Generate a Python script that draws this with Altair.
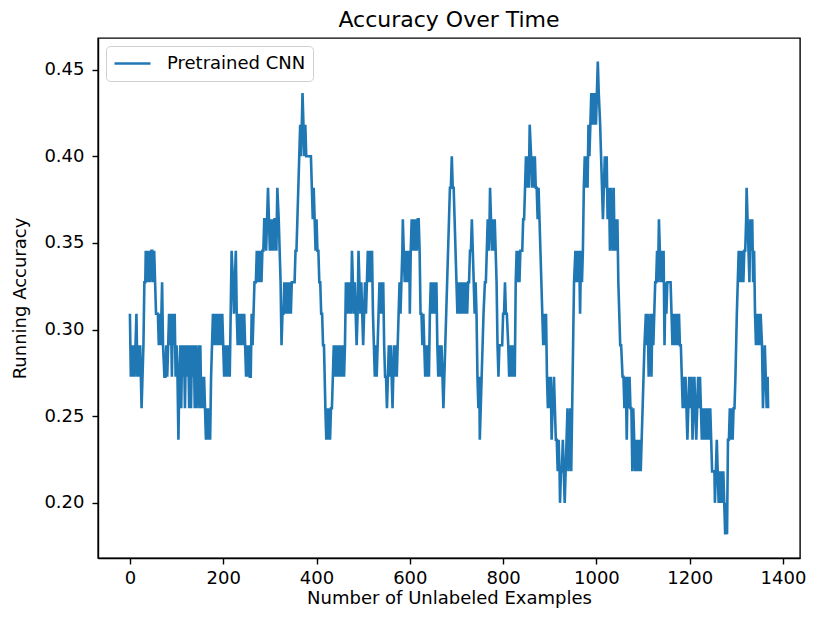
import altair as alt
import pandas as pd

# Running accuracy over a sliding window of 55 examples.
# Values are stored as "correct answers in the window"
# (the curve only takes the levels k/55).
WINDOW = 55

x_pts = [
    0, 2, 4, 6, 8, 10, 12, 14, 16, 18, 20, 22, 25, 27, 29, 31, 33, 34, 36, 38,
    40, 42, 44, 46, 48, 50, 52, 54, 56, 58, 60, 62, 64, 66, 69, 71, 74, 76, 78, 80,
    82, 84, 86, 88, 90, 92, 94, 96, 98, 100, 102, 104, 106, 108, 110, 112, 114, 116, 118, 120,
    123, 125, 127, 129, 131, 133, 135, 137, 139, 141, 143, 145, 147, 149, 151, 153, 155, 157, 159, 161,
    163, 165, 167, 169, 172, 174, 176, 178, 180, 182, 184, 186, 188, 190, 192, 194, 196, 198, 200, 202,
    204, 206, 208, 210, 212, 214, 216, 218, 221, 223, 225, 227, 229, 231, 233, 235, 237, 239, 241, 243,
    245, 247, 249, 251, 253, 255, 257, 259, 261, 263, 265, 267, 270, 272, 274, 276, 278, 280, 282, 284,
    286, 288, 290, 292, 294, 296, 298, 300, 302, 304, 306, 308, 310, 312, 314, 316, 319, 321, 323, 325,
    327, 329, 331, 333, 335, 337, 339, 341, 343, 345, 347, 349, 351, 353, 355, 357, 359, 361, 363, 365,
    367, 370, 372, 374, 376, 378, 380, 384, 388, 390, 392, 394, 396, 398, 400, 402, 404, 406, 408, 410,
    412, 414, 416, 419, 421, 423, 425, 427, 429, 431, 433, 435, 437, 439, 441, 443, 445, 447, 449, 451,
    453, 455, 457, 459, 461, 463, 465, 468, 470, 472, 474, 476, 478, 480, 482, 484, 486, 488, 490, 492,
    494, 496, 498, 500, 502, 504, 506, 508, 510, 512, 514, 517, 519, 521, 523, 525, 527, 529, 531, 533,
    535, 537, 539, 541, 543, 545, 547, 549, 551, 553, 555, 557, 559, 561, 563, 566, 568, 570, 572, 574,
    576, 578, 580, 582, 584, 585, 587, 589, 591, 593, 595, 597, 599, 600, 602, 604, 606, 608, 610, 612,
    615, 617, 619, 621, 623, 625, 627, 629, 631, 633, 635, 637, 639, 641, 643, 645, 647, 649, 651, 653,
    655, 657, 659, 661, 664, 666, 668, 670, 672, 674, 676, 678, 680, 682, 684, 686, 688, 690, 692, 694,
    696, 698, 700, 702, 704, 706, 708, 710, 713, 715, 717, 719, 721, 723, 725, 727, 729, 731, 733, 735,
    737, 739, 741, 743, 745, 747, 749, 750, 752, 754, 756, 758, 761, 763, 765, 767, 769, 771, 772, 774,
    776, 778, 780, 782, 784, 786, 788, 790, 792, 794, 796, 798, 800, 802, 804, 806, 808, 811, 813, 815,
    817, 819, 821, 823, 825, 827, 829, 831, 833, 835, 837, 839, 841, 843, 845, 847, 849, 851, 853, 855,
    857, 860, 862, 864, 866, 868, 870, 872, 874, 876, 878, 880, 882, 884, 886, 888, 890, 892, 894, 896,
    898, 900, 902, 904, 906, 909, 911, 913, 915, 917, 919, 921, 922, 924, 926, 928, 930, 932, 934, 936,
    938, 940, 942, 944, 946, 948, 950, 952, 955, 957, 959, 961, 963, 965, 967, 969, 971, 973, 975, 977,
    979, 981, 983, 985, 987, 989, 991, 993, 995, 997, 999, 1001, 1003, 1005, 1008, 1010, 1012, 1014, 1016, 1018,
    1020, 1022, 1024, 1026, 1028, 1029, 1031, 1033, 1035, 1037, 1039, 1041, 1043, 1045, 1047, 1049, 1051, 1053, 1056, 1058,
    1060, 1062, 1064, 1065, 1067, 1069, 1071, 1073, 1075, 1077, 1079, 1081, 1083, 1085, 1087, 1089, 1091, 1093, 1095, 1097,
    1099, 1101, 1103, 1106, 1108, 1110, 1112, 1114, 1116, 1118, 1120, 1122, 1124, 1126, 1128, 1130, 1132, 1134, 1136, 1138,
    1140, 1142, 1144, 1146, 1148, 1150, 1152, 1155, 1157, 1159, 1161, 1163, 1165, 1167, 1169, 1171, 1173, 1175, 1177, 1179,
    1181, 1183, 1185, 1187, 1189, 1191, 1193, 1195, 1197, 1199, 1201, 1204, 1206, 1208, 1210, 1212, 1214, 1216, 1218, 1220,
    1222, 1224, 1226, 1228, 1230, 1232, 1234, 1236, 1238, 1240, 1242, 1244, 1246, 1248, 1250, 1253, 1254, 1256, 1258, 1260,
    1262, 1264, 1266, 1268, 1270, 1272, 1274, 1276, 1278, 1280, 1282, 1284, 1286, 1288, 1290, 1292, 1294, 1296, 1298, 1301,
    1303, 1305, 1307, 1309, 1311, 1313, 1315, 1317, 1319, 1321, 1322, 1324, 1326, 1328, 1330, 1332, 1334, 1336, 1338, 1340,
    1342, 1344, 1346, 1348, 1350, 1352, 1355, 1357, 1359, 1361, 1363, 1365, 1367, 1368,
]

correct_in_window = [
    17, 15, 16, 15, 16, 15, 16, 17, 15, 16, 15, 16, 14, 15, 16, 18, 18, 19, 18, 19,
    18, 19, 18, 19, 19, 18, 19, 18, 17, 17, 17, 16, 17, 16, 18, 16, 15, 15, 16, 15,
    16, 17, 16, 17, 15, 17, 16, 17, 15, 16, 15, 13, 15, 16, 14, 16, 15, 16, 14, 16,
    15, 16, 14, 16, 14, 16, 15, 16, 14, 16, 14, 15, 16, 14, 16, 14, 15, 14, 15, 14,
    13, 14, 13, 14, 13, 15, 16, 17, 16, 17, 16, 17, 16, 17, 16, 17, 16, 17, 16, 15,
    16, 15, 16, 15, 16, 15, 17, 19, 18, 17, 18, 19, 17, 16, 17, 16, 17, 16, 17, 16,
    17, 16, 15, 16, 15, 16, 15, 15, 17, 16, 17, 18, 18, 19, 18, 19, 18, 19, 18, 19,
    19, 20, 20, 19, 20, 21, 20, 19, 20, 19, 20, 19, 20, 20, 19, 21, 20, 19, 18, 16,
    17, 17, 18, 17, 18, 17, 18, 17, 18, 17, 18, 18, 18, 18, 19, 19, 20, 21, 22, 23,
    22, 24, 23, 22, 23, 22, 22, 22, 22, 21, 20, 21, 20, 19, 20, 19, 19, 18, 18, 17,
    17, 16, 16, 14, 13, 14, 13, 14, 13, 14, 14, 15, 16, 15, 16, 15, 16, 15, 16, 15,
    16, 15, 16, 15, 16, 18, 17, 18, 17, 18, 17, 19, 18, 17, 18, 17, 16, 17, 19, 18,
    17, 18, 17, 16, 17, 18, 17, 18, 19, 18, 19, 18, 19, 17, 16, 15, 16, 15, 16, 17,
    18, 17, 18, 17, 18, 16, 15, 15, 14, 15, 16, 15, 16, 15, 14, 16, 15, 16, 15, 16,
    17, 18, 17, 18, 19, 20, 19, 18, 19, 18, 19, 18, 19, 17, 19, 20, 19, 20, 19, 20,
    19, 20, 20, 19, 17, 17, 16, 17, 16, 15, 16, 15, 16, 15, 17, 18, 17, 18, 17, 18,
    17, 18, 16, 15, 16, 15, 16, 15, 14, 15, 16, 17, 18, 19, 20, 21, 21, 22, 21, 21,
    20, 19, 18, 17, 18, 17, 18, 17, 18, 17, 18, 17, 18, 17, 18, 18, 19, 19, 20, 19,
    18, 17, 18, 17, 15, 14, 15, 13, 14, 15, 16, 17, 18, 18, 19, 20, 19, 20, 21, 20,
    19, 20, 19, 20, 19, 18, 16, 15, 16, 16, 16, 16, 17, 17, 18, 17, 17, 16, 15, 16,
    15, 16, 15, 16, 15, 18, 19, 18, 19, 18, 19, 19, 19, 20, 20, 21, 22, 21, 22, 21,
    23, 22, 21, 22, 21, 22, 21, 21, 20, 21, 20, 19, 18, 17, 16, 17, 16, 17, 15, 14,
    15, 14, 15, 13, 14, 15, 14, 13, 13, 12, 13, 12, 11, 12, 12, 13, 12, 11, 12, 13,
    14, 12, 13, 14, 12, 14, 16, 18, 19, 18, 19, 18, 19, 17, 19, 18, 19, 21, 22, 21,
    22, 21, 23, 22, 23, 24, 23, 24, 23, 24, 23, 24, 25, 24, 23, 22, 21, 20, 21, 22,
    21, 22, 20, 21, 20, 19, 21, 20, 19, 21, 19, 20, 19, 20, 18, 17, 16, 16, 15, 15,
    14, 15, 14, 13, 15, 14, 15, 14, 14, 12, 14, 13, 12, 13, 12, 13, 12, 13, 12, 13,
    14, 15, 16, 17, 16, 17, 15, 16, 17, 15, 17, 16, 17, 18, 18, 19, 18, 20, 19, 18,
    19, 18, 19, 16, 18, 17, 18, 18, 18, 18, 17, 16, 17, 16, 17, 16, 17, 16, 17, 16,
    16, 15, 14, 15, 14, 15, 14, 13, 14, 15, 14, 15, 13, 14, 15, 14, 13, 14, 15, 14,
    15, 14, 13, 14, 13, 14, 13, 14, 13, 14, 13, 14, 13, 12, 12, 12, 11, 12, 13, 12,
    11, 12, 11, 12, 11, 12, 11, 10, 11, 10, 13, 13, 14, 13, 14, 13, 14, 14, 15, 17,
    18, 19, 18, 19, 18, 19, 18, 19, 19, 20, 21, 20, 19, 18, 20, 19, 20, 18, 19, 17,
    16, 17, 16, 17, 16, 17, 16, 14, 15, 16, 15, 14, 15, 14,
]

series_name = "Pretrained CNN"
x_ticks = [0, 200, 400, 600, 800, 1000, 1200, 1400]
y_ticks = [0.20, 0.25, 0.30, 0.35, 0.40, 0.45]

df = pd.DataFrame({
    "examples": x_pts,
    "accuracy": [c / WINDOW for c in correct_in_window],
    "series": [series_name] * len(x_pts),
})

FONT = "DejaVu Sans"

chart = (
    alt.Chart(df)
    .mark_line(strokeWidth=2.6, color="#1f77b4")
    .encode(
        x=alt.X(
            "examples:Q",
            title="Number of Unlabeled Examples",
            scale=alt.Scale(domain=[-68.4, 1436.4], nice=False, zero=False),
            axis=alt.Axis(values=x_ticks, format="d"),
        ),
        y=alt.Y(
            "accuracy:Q",
            title="Running Accuracy",
            scale=alt.Scale(domain=[0.16818, 0.46818], nice=False, zero=False),
            axis=alt.Axis(values=y_ticks, format=".2f"),
        ),
        color=alt.Color(
            "series:N",
            scale=alt.Scale(range=["#1f77b4"]),
            legend=alt.Legend(
                title=None,
                orient="top-left",
                offset=8,
                symbolType="stroke",
                symbolSize=1296,
                symbolStrokeWidth=2.6,
                clipHeight=21,
                labelFontSize=18,
                labelFont=FONT,
                labelColor="#000000",
                labelOffset=15,
                padding=7,
                strokeColor="#d0d0d0",
                fillColor="white",
                cornerRadius=4,
            ),
        ),
    )
    .properties(
        width=702,
        height=520,
        title=alt.TitleParams(
            "Accuracy Over Time", font=FONT, fontSize=22, fontWeight="normal",
            color="#000000", anchor="middle", offset=6,
        ),
        autosize=alt.AutoSizeParams(type="none"),
        padding={"left": 90, "top": 30, "right": 12, "bottom": 53},
    )
    .configure_view(stroke="#000000", strokeWidth=1.4)
    .configure_axis(
        grid=False,
        domainColor="#000000",
        domainWidth=1.4,
        tickColor="#000000",
        tickSize=6,
        tickWidth=1.4,
        labelFont=FONT,
        labelFontSize=18,
        labelColor="#000000",
        titleFont=FONT,
        titleFontSize=18,
        titleFontWeight="normal",
        titleColor="#000000",
    )
    .configure_axisY(labelPadding=8, titlePadding=14)
    .configure_axisX(labelPadding=5, titlePadding=2)
)

chart.save("out.html", embed_options={"renderer": "svg", "actions": False})
